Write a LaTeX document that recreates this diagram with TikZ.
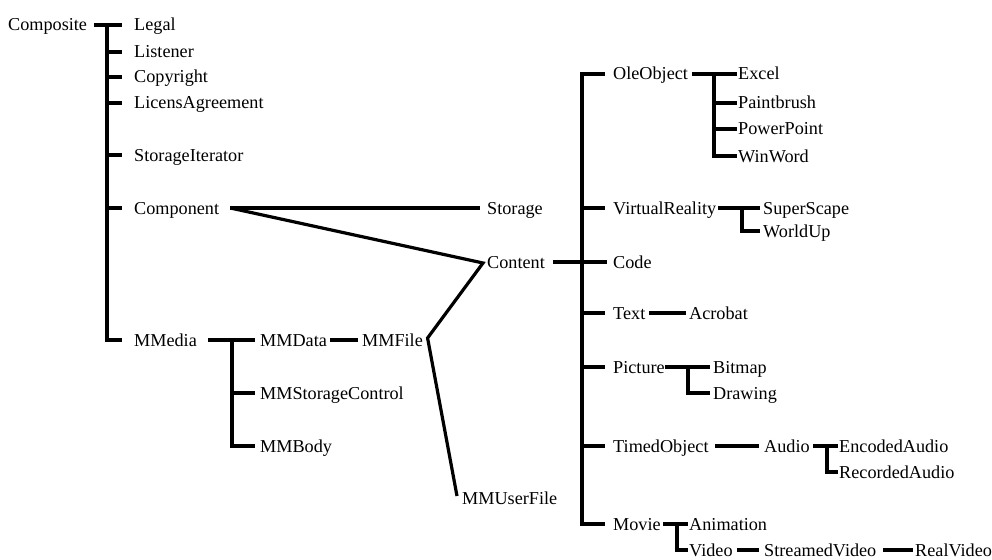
\documentclass[tikz,border=0pt]{standalone}
\usepackage{fontspec}
\setmainfont{Liberation Serif}
\newfontfamily\lblfont{Liberation Serif}
\begin{document}
\begin{tikzpicture}[x=1pt,y=-1pt,
  lbl/.style={anchor=west, inner sep=0pt, text height=12pt, text depth=0pt,
              font=\lblfont\fontsize{18.2}{20}\selectfont},
  tree/.style={line width=4pt, line join=miter},
  link/.style={line width=3.2pt, line join=miter}]
\useasboundingbox (0,0) rectangle (992,559);

% ---------- left hierarchy ----------
\node[lbl] (composite) at (8,25)   {Composite};
\node[lbl] (legal)     at (134,25) {Legal};
\node[lbl] (listener)  at (134,52) {Listener};
\node[lbl] (copyright) at (134,77) {Copyright};
\node[lbl] (licens)    at (134,103) {LicensAgreement};
\node[lbl] (storit)    at (134,155) {StorageIterator};
\node[lbl] (component) at (134,208) {Component};
\node[lbl] (mmedia)    at (134,340) {MMedia};

\node[lbl] (mmdata)    at (260,340) {MMData};
\node[lbl] (mmsc)      at (260,393) {MMStorageControl};
\node[lbl] (mmbody)    at (260,446) {MMBody};
\node[lbl] (mmfile)    at (362,340) {MMFile};
\node[lbl] (mmuser)    at (462,498) {MMUserFile};

\node[lbl] (storage)   at (487,208) {Storage};
\node[lbl] (content)   at (487,262) {Content};

% ---------- right hierarchy ----------
\node[lbl] (ole)       at (613,74)  {OleObject};
\node[lbl] (vr)        at (613,208) {VirtualReality};
\node[lbl] (code)      at (613,262) {Code};
\node[lbl] (text)      at (613,313) {Text};
\node[lbl] (picture)   at (613,367) {Picture};
\node[lbl] (timed)     at (613,446) {TimedObject};
\node[lbl] (movie)     at (613,524) {Movie};

\node[lbl] (excel)     at (738,74)  {Excel};
\node[lbl] (paint)     at (738,103) {Paintbrush};
\node[lbl] (ppt)       at (738,129) {PowerPoint};
\node[lbl] (winword)   at (738,156) {WinWord};

\node[lbl] (super)     at (763,208) {SuperScape};
\node[lbl] (worldup)   at (763,231) {WorldUp};

\node[lbl] (acrobat)   at (689,313) {Acrobat};

\node[lbl] (bitmap)    at (713,367) {Bitmap};
\node[lbl] (drawing)   at (713,393) {Drawing};

\node[lbl] (audio)     at (764,446) {Audio};
\node[lbl] (encaudio)  at (839,446) {EncodedAudio};
\node[lbl] (recaudio)  at (839,472) {RecordedAudio};

\node[lbl] (anim)      at (689,524) {Animation};
\node[lbl] (video)     at (689,550) {Video};
\node[lbl] (svideo)    at (764,550) {StreamedVideo};
\node[lbl] (rvideo)    at (915,550) {RealVideo};

% ---------- trunk coordinates ----------
\coordinate (tL)  at (107,25);
\coordinate (tM)  at (232,340);
\coordinate (tR)  at (582,74);
\coordinate (tO)  at (714,74);
\coordinate (tV)  at (742,208);
\coordinate (tP)  at (688,367);
\coordinate (tA)  at (827,446);
\coordinate (tMv) at (677,524);

% Composite tree
\draw[tree] ([xshift=7pt]composite.east) -- ([xshift=-12pt]legal.west);
\draw[tree] (tL) |- ([xshift=-12pt]mmedia.west);
\foreach \n in {listener,copyright,licens,storit,component}
  \draw[tree] (tL |- \n.west) -- ([xshift=-12pt]\n.west);

% Component associations
\draw[link] ([xshift=11pt]component.east) -- ([xshift=-7pt]storage.west);
\draw[link] ([xshift=11pt]component.east) -- ([xshift=-4pt,yshift=-1pt]content.west)
            -- ([xshift=4.5pt,yshift=2pt]mmfile.east)
            -- ([xshift=-5pt,yshift=2pt]mmuser.west);

% MMedia tree
\draw[tree] ([xshift=11pt]mmedia.east) -- ([xshift=-5pt]mmdata.west);
\draw[tree] (tM) |- ([xshift=-5pt]mmbody.west);
\draw[tree] (tM |- mmsc.west) -- ([xshift=-5pt]mmsc.west);
\draw[tree] ([xshift=3pt]mmdata.east) -- ([xshift=-4pt]mmfile.west);

% Content tree
\draw[tree] ([xshift=8pt]content.east) -- ([xshift=-6pt]code.west);
\draw[tree] ([xshift=-8pt]ole.west) -| (tR |- movie.west) -- ([xshift=-8pt]movie.west);
\foreach \n in {vr,text,picture,timed}
  \draw[tree] (tR |- \n.west) -- ([xshift=-8pt]\n.west);

% OleObject
\draw[tree] ([xshift=4pt]ole.east) -- ([xshift=-1.5pt]excel.west);
\draw[tree] (tO) |- ([xshift=-1.5pt]winword.west);
\foreach \n in {paint,ppt}
  \draw[tree] (tO |- \n.west) -- ([xshift=-1.5pt]\n.west);

% VirtualReality
\draw[tree] ([xshift=2pt]vr.east) -- ([xshift=-3pt]super.west);
\draw[tree] (tV) |- ([xshift=-3pt]worldup.west);

% Text
\draw[tree] ([xshift=3.5pt]text.east) -- ([xshift=-3pt]acrobat.west);

% Picture
\draw[tree] ([xshift=0.5pt]picture.east) -- ([xshift=-3pt]bitmap.west);
\draw[tree] (tP) |- ([xshift=-3pt]drawing.west);

% TimedObject
\draw[tree] ([xshift=6pt]timed.east) -- ([xshift=-5pt]audio.west);
\draw[tree] ([xshift=3.5pt]audio.east) -- ([xshift=-1.5pt]encaudio.west);
\draw[tree] (tA) |- ([xshift=-1.5pt]recaudio.west);

% Movie
\draw[tree] ([xshift=2.5pt]movie.east) -- ([xshift=-1.5pt]anim.west);
\draw[tree] (tMv) |- ([xshift=-1.5pt]video.west);
\draw[tree] ([xshift=4.5pt]video.east) -- ([xshift=-5pt]svideo.west);
\draw[tree] ([xshift=6pt]svideo.east) -- ([xshift=-2pt]rvideo.west);
\end{tikzpicture}
\end{document}
